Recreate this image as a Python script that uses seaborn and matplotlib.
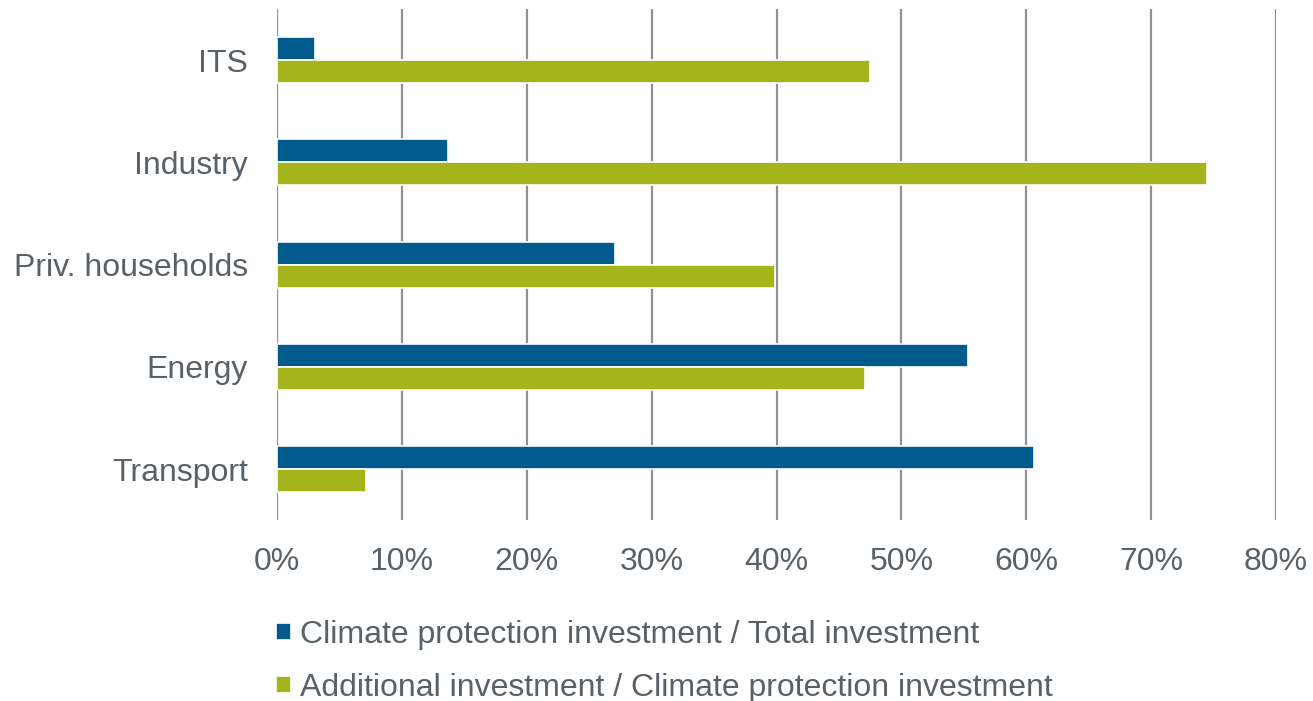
import matplotlib
matplotlib.use("Agg")
import matplotlib.pyplot as plt
import seaborn as sns
import pandas as pd
from matplotlib.ticker import PercentFormatter

sectors = ["ITS", "Industry", "Priv. households", "Energy", "Transport"]
share_total = [3.0, 13.7, 27.1, 55.3, 60.6]        # climate protection / total investment (%)
share_additional = [47.5, 74.5, 39.9, 47.1, 7.1]  # additional / climate protection investment (%)
series_names = [
    "Climate protection investment / Total investment",
    "Additional investment / Climate protection investment",
]
colors = ["#005a8c", "#a5b41b"]
x_ticks = [0, 10, 20, 30, 40, 50, 60, 70, 80]

df = pd.DataFrame({
    "sector": sectors * 2,
    "value": share_total + share_additional,
    "series": [series_names[0]] * len(sectors) + [series_names[1]] * len(sectors),
})

sns.set_theme(style="white")
plt.rcParams["font.family"] = ["Liberation Sans", "DejaVu Sans"]
text_color = "#586068"
grid_color = "#8e9296"
font_size = 23

fig = plt.figure(figsize=(13.13, 7.01), dpi=100)
ax = fig.add_axes([0.211, 0.258, 0.7608, 0.729])

sns.barplot(
    data=df, x="value", y="sector", hue="series", order=sectors,
    hue_order=series_names, palette=colors, saturation=1, orient="h",
    width=0.45, edgecolor="white", linewidth=1.2, ax=ax, zorder=3,
)

ax.set_xlim(0, 80)
ax.set_ylim(4.5, -0.5)
ax.set_xticks(x_ticks)
ax.xaxis.set_major_formatter(PercentFormatter(decimals=0))
ax.grid(axis="x", color=grid_color, linewidth=1.6, zorder=0)
ax.grid(axis="y", visible=False)
for s in ax.spines.values():
    s.set_visible(False)
ax.tick_params(axis="both", length=0, labelsize=font_size, labelcolor=text_color)
ax.tick_params(axis="x", pad=19)
ax.tick_params(axis="y", pad=21)
ax.set_xlabel("")
ax.set_ylabel("")

handles, labels = ax.get_legend_handles_labels()
ax.get_legend().remove()
fig.legend(
    handles, labels, loc="upper left", bbox_to_anchor=(0.21, 0.116),
    frameon=False, fontsize=font_size, labelcolor=text_color,
    handlelength=0.47, handleheight=0.47, handletextpad=0.28,
    labelspacing=0.72, borderaxespad=0, borderpad=0,
)

fig.savefig("out.png", dpi=100)
